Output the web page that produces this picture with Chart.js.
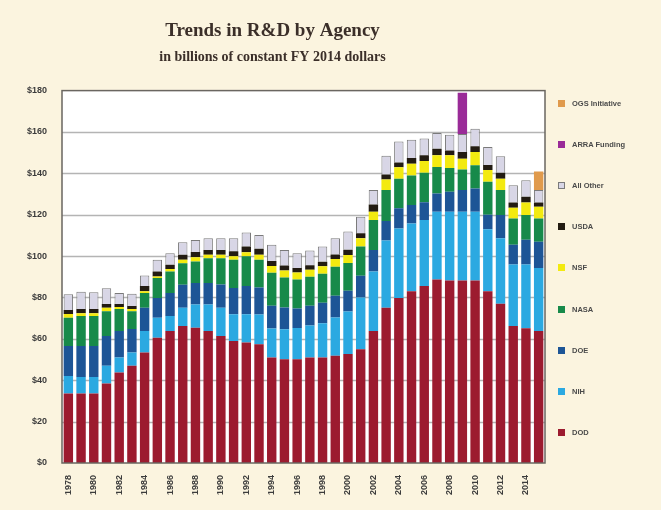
<!DOCTYPE html>
<html>
<head>
<meta charset="utf-8">
<script src="https://cdn.jsdelivr.net/npm/chart.js@4.4.0/dist/chart.umd.min.js"></script>
<style>
  html, body { margin: 0; padding: 0; background: #fbf4df; }
  #wrap { position: relative; width: 661px; height: 510px; }
  #legend { position: absolute; left: 0; top: 0; }
  .item { position: absolute; left: 558px; height: 10px; font: bold 7.5px "Liberation Sans", Arial, sans-serif; color: #4a4a4a; white-space: nowrap; line-height: 10px; }
  .item span.box { display: inline-block; width: 7px; height: 7px; margin-right: 7px; vertical-align: -1px; box-sizing: border-box; }
</style>
</head>
<body>
<div id="wrap">
  <canvas id="chart" width="661" height="510"></canvas>
  <div id="legend"></div>
</div>
<script>
// années (FY)
const years = ['1978','1979','1980','1981','1982','1983','1984','1985','1986','1987',
  '1988','1989','1990','1991','1992','1993','1994','1995','1996','1997',
  '1998','1999','2000','2001','2002','2003','2004','2005','2006','2007',
  '2008','2009','2010','2011','2012','2013','2014','2015'];

// valeurs (milliards de dollars FY 2014)
const dod = [33.6,33.6,33.6,38.4,43.8,47.0,53.4,60.6,63.8,66.2,
  65.4,63.8,61.4,59.0,58.2,57.4,51.0,50.2,50.2,51.0,
  51.0,51.8,52.7,55.0,63.8,75.0,79.8,83.0,85.5,88.7,
  88.2,88.2,88.2,83.0,77.0,66.2,65.1,63.8];
const nih = [8.4,8.0,8.0,8.6,7.2,6.4,10.4,9.6,7.2,8.8,
  11.2,12.8,13.6,12.9,13.7,14.4,14.0,14.5,15.0,15.5,
  16.5,18.5,20.5,25.0,28.8,32.5,33.6,32.8,32.0,32.8,
  33.3,33.3,33.3,30.0,31.6,29.7,30.8,30.4];
const doe = [14.6,15.0,15.0,14.4,12.8,11.4,11.2,9.6,11.2,11.2,
  10.4,10.4,11.3,12.7,13.6,13.0,11.0,10.5,9.5,9.5,
  10.0,10.5,10.0,10.5,10.4,9.5,9.7,8.9,8.5,8.8,
  9.6,10.4,11.2,7.0,11.3,9.6,12.0,12.8];
const nasa = [13.6,14.4,14.4,12.0,10.6,8.6,7.2,9.6,10.4,10.4,
  10.4,12.0,12.7,13.7,14.4,13.5,16.0,14.5,14.0,14.0,
  14.0,14.0,13.5,14.2,14.5,15.0,14.3,14.3,14.3,12.8,
  11.5,10.0,11.2,16.0,12.0,12.7,12.0,11.2];
const nsf = [1.8,1.4,1.4,1.6,1.0,1.0,0.8,0.8,1.2,1.6,
  2.0,1.6,1.7,1.6,2.0,2.4,3.2,3.4,3.4,3.4,
  3.6,3.8,3.8,3.9,4.0,5.0,5.5,5.7,5.7,5.6,
  6.1,5.1,6.4,5.6,5.5,5.2,6.0,5.7];
const usda = [2.0,2.0,2.0,1.8,1.4,1.5,2.5,2.4,2.0,2.4,
  2.6,2.4,2.3,2.4,2.8,2.9,2.4,2.4,2.2,2.2,
  2.2,2.2,2.6,2.4,3.5,2.5,2.4,2.7,2.8,3.2,
  2.4,3.3,2.8,2.4,2.9,2.5,2.8,2.0];
const allOther = [7.6,8.4,8.1,7.7,5.4,5.9,5.1,5.6,5.6,6.1,
  5.8,5.6,5.6,6.3,6.7,6.6,7.9,7.5,7.1,7.1,
  7.4,7.8,8.8,8.0,7.0,9.0,10.1,8.9,8.0,7.6,
  7.6,8.7,8.5,8.7,8.0,8.4,8.0,6.0];
const arra = [null,null,null,null,null,null,null,null,null,null,
  null,null,null,null,null,null,null,null,null,null,
  null,null,null,null,null,null,null,null,null,null,
  null,20.0,null,null,null,null,null,null];
const ogs = [null,null,null,null,null,null,null,null,null,null,
  null,null,null,null,null,null,null,null,null,null,
  null,null,null,null,null,null,null,null,null,null,
  null,null,null,null,null,null,null,9.0];

const yTicks = ['$0','$20','$40','$60','$80','$100','$120','$140','$160','$180'];

const series = [
  { label: 'DOD', data: dod, color: '#9c1b2f' },
  { label: 'NIH', data: nih, color: '#2ba9e1' },
  { label: 'DOE', data: doe, color: '#1d5596' },
  { label: 'NASA', data: nasa, color: '#178a4a' },
  { label: 'NSF', data: nsf, color: '#f3ea10' },
  { label: 'USDA', data: usda, color: '#231c12' },
  { label: 'All Other', data: allOther, color: '#d8d6e6', border: '#7a7a7a' },
  { label: 'ARRA Funding', data: arra, color: '#9a2b98' },
  { label: 'OGS Initiative', data: ogs, color: '#e09a4c' }
];

// fond blanc + cadre du graphique
const framePlugin = {
  id: 'frame',
  beforeDatasetsDraw(chart) {
    const a = chart.chartArea;
    const ctx = chart.ctx;
    ctx.save();
    ctx.fillStyle = '#ffffff';
    ctx.fillRect(a.left, a.top, a.right - a.left, a.bottom - a.top);
    // lignes de grille
    const y = chart.scales.y;
    ctx.strokeStyle = '#b4b4b4';
    ctx.lineWidth = 1.5;
    for (let v = 20; v < 180; v += 20) {
      const py = Math.round(y.getPixelForValue(v)) + 0.5;
      ctx.beginPath();
      ctx.moveTo(a.left, py);
      ctx.lineTo(a.right, py);
      ctx.stroke();
    }
    ctx.restore();
  },
  afterDatasetsDraw(chart) {
    const a = chart.chartArea;
    const ctx = chart.ctx;
    ctx.save();
    ctx.strokeStyle = '#6a6660';
    ctx.lineWidth = 1.5;
    ctx.strokeRect(a.left, a.top, a.right - a.left, a.bottom - a.top);
    ctx.restore();
  }
};

const ctx = document.getElementById('chart').getContext('2d');
const chart = new Chart(ctx, {
  type: 'bar',
  data: {
    labels: years,
    datasets: series.map(s => ({
      label: s.label,
      data: s.data,
      backgroundColor: s.color,
      borderColor: s.border || s.color,
      borderWidth: s.border ? 1 : 0,
      barPercentage: 0.74,
      categoryPercentage: 1.0
    }))
  },
  options: {
    responsive: false,
    animation: false,
    layout: { padding: { top: 20, right: 116, bottom: 0, left: 0 } },
    plugins: {
      legend: { display: false },
      tooltip: { enabled: false },
      title: {
        display: true,
        text: 'Trends in R&D by Agency',
        color: '#3b2f29',
        font: { family: '"Liberation Serif", "DejaVu Serif", serif', size: 19, weight: 'bold' },
        padding: { top: 0, bottom: 6 }
      },
      subtitle: {
        display: true,
        text: 'in billions of constant FY 2014 dollars',
        color: '#3b2f29',
        font: { family: '"Liberation Serif", "DejaVu Serif", serif', size: 14, weight: 'bold' },
        padding: { top: 0, bottom: 25 }
      }
    },
    scales: {
      x: {
        stacked: true,
        grid: { display: false },
        border: { display: false },
        afterFit(scale) { scale.height = 47; },
        ticks: {
          autoSkip: false,
          minRotation: 90,
          maxRotation: 90,
          padding: 4,
          color: '#3c3c3c',
          font: { family: '"Liberation Sans", Arial, sans-serif', size: 9, weight: 'bold' },
          callback: function (val, i) { return i % 2 === 0 ? this.getLabelForValue(val) : ''; }
        }
      },
      y: {
        stacked: true,
        min: 0,
        max: 180,
        grid: { display: false },
        border: { display: false },
        afterFit(scale) { scale.width = 62; },
        ticks: {
          stepSize: 20,
          padding: 7,
          color: '#3c3c3c',
          font: { family: '"Liberation Sans", Arial, sans-serif', size: 9, weight: 'bold' },
          callback: (v) => yTicks[v / 20]
        }
      }
    }
  },
  plugins: [framePlugin]
});

// légende à droite (ordre inverse de l'empilement)
const legend = document.getElementById('legend');
series.slice().reverse().forEach((s, i) => {
  const div = document.createElement('div');
  div.className = 'item';
  div.style.top = (99 + i * 41.1) + 'px';
  const box = document.createElement('span');
  box.className = 'box';
  box.style.background = s.color;
  box.style.border = '1px solid ' + (s.border || s.color);
  div.appendChild(box);
  div.appendChild(document.createTextNode(s.label));
  legend.appendChild(div);
});
</script>
</body>
</html>
